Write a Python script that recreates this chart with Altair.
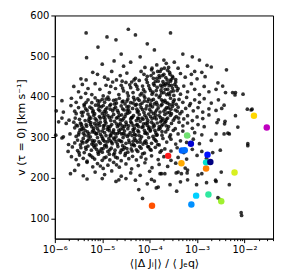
import altair as alt
import pandas as pd

# Background sample: (log10 <|dJ|>/<Jeq>, v), by velocity band
TOP = [(-4.45,566),(-5.34,557),(-3.56,557),(-4.90,547),(-4.71,540),(-5.09,522),(-5.33,496),(-4.30,552),(-4.05,530),(-3.90,515),(-4.60,505),(-3.30,505),(-3.10,498),(-2.95,490),(-4.20,498),(-3.70,490),(-3.65,482),(-3.85,478),(-3.48,485),(-4.75,488),(-5.00,480),(-4.40,485),(-3.20,475),(-2.70,473),(-2.79,477),(-2.38,466),(-3.95,470),(-3.60,472),(-3.75,468),(-4.10,472),(-4.55,475),(-3.40,470)]
B440 = [(-5.45,444),(-5.34,441),(-5.10,455),(-4.95,448),(-4.80,462),(-4.62,452),(-4.48,458),(-4.30,445),(-4.18,462),(-4.05,450),(-3.92,458),(-3.85,445),(-3.78,462),(-3.70,455),(-3.66,447),(-3.58,460),(-3.52,450),(-3.45,442),(-3.35,457),(-3.25,448),(-3.12,455),(-3.00,444),(-2.83,449),(-2.56,434),(-4.70,441),(-4.22,440),(-3.96,466),(-3.62,465),(-3.80,452),(-3.55,442),(-4.88,443),(-5.20,460),(-3.05,462),(-2.90,460),(-2.46,426)]
B400 = [(-5.60,425),(-5.50,412),(-5.42,430),(-5.30,420),(-5.22,405),(-5.15,432),(-5.05,418),(-4.98,402),(-4.92,428),(-4.85,410),(-4.78,436),(-4.72,420),(-4.65,405),(-4.60,428),(-4.55,414),(-4.50,435),(-4.45,402),(-4.40,422),(-4.35,410),(-4.30,430),(-4.25,418),(-4.20,404),(-4.15,426),(-4.10,412),(-4.05,435),(-4.00,420),(-3.95,406),(-3.90,428),(-3.86,415),(-3.82,438),(-3.78,402),(-3.74,424),(-3.70,410),(-3.66,432),(-3.62,418),(-3.58,404),(-3.54,428),(-3.50,414),(-3.45,436),(-3.40,420),(-3.35,406),(-3.28,426),(-3.20,412),(-3.12,432),(-3.05,418),(-2.95,405),(-2.85,425),(-2.75,412),(-2.60,418),(-2.40,410),(-2.19,410),(-2.03,406),(-2.25,410),(-2.20,404),(-4.82,425),(-4.38,436),(-3.98,415),(-3.72,437),(-3.60,408),(-3.44,425),(-4.12,402),(-4.58,438),(-5.35,408),(-3.92,432),(-3.76,416),(-3.68,428),(-3.56,438)]
B380 = [(-5.85,390),(-5.65,396),(-5.55,386),(-5.45,398),(-5.38,381),(-5.30,392),(-5.22,385),(-5.15,397),(-5.08,382),(-5.00,393),(-4.95,386),(-4.88,399),(-4.82,381),(-4.76,391),(-4.70,384),(-4.64,396),(-4.58,387),(-4.52,382),(-4.46,394),(-4.40,385),(-4.34,398),(-4.28,381),(-4.22,391),(-4.16,384),(-4.10,397),(-4.04,388),(-3.98,382),(-3.92,393),(-3.86,386),(-3.80,398),(-3.74,381),(-3.68,391),(-3.62,384),(-3.56,396),(-3.50,388),(-3.44,381),(-3.38,393),(-3.30,386),(-3.22,398),(-3.14,383),(-3.05,392),(-2.95,386),(-2.85,395),(-2.70,384),(-2.55,392),(-2.43,379),(-4.92,394),(-4.48,389),(-4.02,394),(-3.72,388),(-3.58,380),(-4.25,395),(-5.05,389),(-3.90,382)]
B360 = [(-5.97,365),(-5.82,362),(-5.66,378),(-5.58,364),(-5.50,373),(-5.44,361),(-5.38,377),(-5.32,366),(-5.26,374),(-5.20,362),(-5.14,379),(-5.08,368),(-5.02,375),(-4.96,363),(-4.90,372),(-4.84,378),(-4.78,365),(-4.72,374),(-4.66,361),(-4.60,377),(-4.54,367),(-4.48,375),(-4.42,362),(-4.36,371),(-4.30,379),(-4.24,364),(-4.18,373),(-4.12,361),(-4.06,377),(-4.00,368),(-3.94,375),(-3.88,362),(-3.82,372),(-3.76,378),(-3.70,364),(-3.64,373),(-3.58,361),(-3.52,376),(-3.46,367),(-3.40,374),(-3.32,363),(-3.24,371),(-3.16,378),(-3.08,365),(-2.98,373),(-2.88,362),(-2.75,370),(-2.60,366),(-2.48,371),(-2.19,353),(-1.86,367),(-1.94,369),(-1.84,369),(-4.93,368),(-4.57,370),(-4.27,369),(-3.97,363),(-3.67,369),(-5.35,370),(-5.05,365),(-4.75,370),(-4.45,368),(-4.15,368),(-3.85,367),(-3.55,369)]
B340 = [(-5.85,347),(-5.70,342),(-5.55,358),(-5.48,344),(-5.42,353),(-5.36,341),(-5.30,357),(-5.24,347),(-5.18,354),(-5.12,342),(-5.06,351),(-5.00,358),(-4.94,345),(-4.88,353),(-4.82,341),(-4.76,356),(-4.70,347),(-4.64,354),(-4.58,342),(-4.52,351),(-4.46,359),(-4.40,345),(-4.34,353),(-4.28,341),(-4.22,356),(-4.16,347),(-4.10,354),(-4.04,342),(-3.98,351),(-3.92,358),(-3.86,345),(-3.80,353),(-3.74,341),(-3.68,356),(-3.62,347),(-3.56,354),(-3.50,342),(-3.44,351),(-3.36,358),(-3.28,345),(-3.20,353),(-3.10,341),(-3.00,350),(-2.88,346),(-2.75,355),(-2.55,343),(-5.27,350),(-4.97,349),(-4.67,349),(-4.37,349),(-4.07,348),(-3.77,348),(-3.47,347),(-5.57,347),(-5.15,346),(-4.85,348),(-4.55,346),(-4.25,347),(-3.95,346),(-3.65,344)]
B320 = [(-5.92,338),(-5.76,334),(-5.60,337),(-5.52,328),(-5.46,335),(-5.40,322),(-5.34,331),(-5.28,339),(-5.22,326),(-5.16,334),(-5.10,321),(-5.04,337),(-4.98,328),(-4.92,335),(-4.86,322),(-4.80,331),(-4.74,339),(-4.68,326),(-4.62,334),(-4.56,321),(-4.50,337),(-4.44,328),(-4.38,335),(-4.32,322),(-4.26,331),(-4.20,339),(-4.14,326),(-4.08,334),(-4.02,321),(-3.96,337),(-3.90,328),(-3.84,335),(-3.78,322),(-3.72,331),(-3.66,339),(-3.60,326),(-3.54,334),(-3.46,321),(-3.38,337),(-3.30,328),(-3.20,335),(-3.10,322),(-2.98,331),(-2.85,326),(-2.42,333),(-2.58,336),(-2.41,339),(-2.14,325),(-5.55,330),(-5.25,331),(-4.95,330),(-4.65,330),(-4.35,329),(-4.05,329),(-3.75,328),(-5.13,328),(-4.83,327),(-4.53,327),(-4.23,326),(-3.93,325),(-5.43,327)]
B300 = [(-5.98,305),(-5.82,301),(-5.68,308),(-5.55,302),(-5.49,311),(-5.43,319),(-5.37,305),(-5.31,313),(-5.25,301),(-5.19,317),(-5.13,308),(-5.07,315),(-5.01,302),(-4.95,311),(-4.89,319),(-4.83,305),(-4.77,313),(-4.71,301),(-4.65,317),(-4.59,308),(-4.53,315),(-4.47,302),(-4.41,311),(-4.35,319),(-4.29,305),(-4.23,313),(-4.17,301),(-4.11,317),(-4.05,308),(-3.99,315),(-3.93,302),(-3.87,311),(-3.81,319),(-3.74,305),(-3.66,313),(-3.58,301),(-3.50,317),(-3.40,308),(-3.30,315),(-3.18,303),(-3.05,311),(-2.90,306),(-2.60,308),(-2.35,310),(-2.32,308),(-2.43,308),(-5.28,309),(-5.04,307),(-4.80,310),(-4.56,309),(-4.32,307),(-4.08,311),(-3.84,306),(-5.16,312),(-4.92,304),(-4.68,309),(-4.44,306),(-5.40,310)]
B280 = [(-5.85,298),(-5.71,282),(-5.58,286),(-5.52,293),(-5.46,281),(-5.40,297),(-5.34,288),(-5.28,295),(-5.22,283),(-5.16,291),(-5.10,299),(-5.04,285),(-4.98,293),(-4.92,281),(-4.86,297),(-4.80,288),(-4.74,295),(-4.68,283),(-4.62,291),(-4.56,299),(-4.50,285),(-4.44,293),(-4.38,281),(-4.32,297),(-4.26,288),(-4.20,295),(-4.14,283),(-4.08,291),(-4.02,299),(-3.96,285),(-3.88,293),(-3.80,281),(-3.72,297),(-3.64,288),(-3.55,295),(-3.45,283),(-3.35,291),(-3.22,287),(-3.08,295),(-2.95,284),(-2.70,292),(-1.93,284),(-1.93,279),(-5.31,291),(-5.07,289),(-4.83,291),(-4.59,289),(-4.35,290),(-4.11,288),(-4.95,290),(-4.71,289),(-5.19,287),(-5.43,290)]
B260 = [(-5.72,265),(-5.63,276),(-5.52,267),(-5.45,274),(-5.38,262),(-5.30,278),(-5.23,268),(-5.16,275),(-5.09,263),(-5.02,271),(-4.95,279),(-4.88,265),(-4.81,273),(-4.74,261),(-4.67,277),(-4.60,268),(-4.53,275),(-4.46,263),(-4.39,271),(-4.32,279),(-4.25,265),(-4.18,273),(-4.11,261),(-4.04,277),(-3.97,268),(-3.88,275),(-3.78,263),(-3.68,271),(-3.55,266),(-3.42,274),(-3.28,262),(-3.10,270),(-2.90,265),(-2.67,262),(-2.51,268),(-5.12,270),(-4.84,269),(-4.56,270),(-4.28,269),(-5.34,270),(-4.98,272)]
B240 = [(-5.65,252),(-5.55,245),(-5.48,256),(-5.40,248),(-5.32,241),(-5.24,254),(-5.16,246),(-5.08,258),(-5.00,243),(-4.92,251),(-4.84,244),(-4.76,257),(-4.68,249),(-4.60,242),(-4.52,255),(-4.44,247),(-4.36,253),(-4.28,244),(-4.18,251),(-4.08,246),(-3.96,254),(-3.82,245),(-3.70,252),(-3.55,243),(-3.40,250),(-3.22,246),(-3.00,255),(-2.80,248),(-5.20,250),(-4.96,249),(-4.72,251)]
B220 = [(-5.50,232),(-5.32,238),(-5.20,227),(-5.10,235),(-4.98,223),(-4.88,231),(-4.76,238),(-4.64,226),(-4.50,234),(-4.38,222),(-4.24,230),(-4.10,237),(-3.95,225),(-3.80,233),(-3.62,228),(-3.45,236),(-3.25,224),(-5.04,229),(-4.70,232)]
B200 = [(-5.67,210),(-5.58,218),(-5.40,205),(-5.15,214),(-4.95,208),(-4.80,217),(-4.60,204),(-4.40,212),(-4.20,206),(-4.00,216),(-3.75,210),(-3.40,214),(-2.98,207),(-2.49,214),(-3.20,219),(-3.44,212),(-3.33,210),(-3.21,212),(-2.90,210),(-3.78,210),(-3.68,210)]
LOW = [(-5.32,197),(-4.71,191),(-4.65,195),(-2.60,191),(-3.01,183),(-3.43,167),(-3.57,183),(-3.82,177),(-4.15,149),(-4.23,171),(-2.07,114),(-2.06,107),(-2.52,147),(-5.00,198),(-4.30,194),(-3.90,192),(-3.20,195),(-2.80,188),(-4.50,198),(-4.05,185),(-2.61,194),(-2.32,183),(-2.56,151),(-3.35,190),(-3.86,175),(-3.96,196)]
# extra points in the dense core
CORE1 = [(-5.49,262),(-5.41,286),(-5.35,275),(-5.27,257),(-5.21,292),(-5.13,281),(-5.05,266),(-4.99,297),(-4.91,276),(-4.85,258),(-4.79,284),(-4.73,268),(-4.65,293),(-4.57,279),(-4.51,260),(-4.43,287),(-4.37,266),(-4.29,292),(-4.21,277),(-4.15,259),(-4.07,285),(-3.99,270),(-3.91,296),(-3.83,282),(-3.75,267),(-5.18,279),(-4.89,289),(-4.62,262),(-4.34,282),(-4.02,276),(-5.00,263),(-4.76,298),(-4.48,272),(-4.20,288),(-3.86,290)]
CORE2 = [(-5.58,323),(-5.50,306),(-5.44,332),(-5.36,316),(-5.30,303),(-5.24,336),(-5.18,322),(-5.12,309),(-5.06,329),(-5.00,315),(-4.94,339),(-4.88,326),(-4.82,303),(-4.76,318),(-4.70,333),(-4.64,312),(-4.58,328),(-4.52,306),(-4.46,321),(-4.40,338),(-4.34,314),(-4.28,330),(-4.22,304),(-4.16,324),(-4.10,310),(-4.04,336),(-3.98,318),(-3.92,332),(-3.86,305),(-3.80,326),(-3.74,314),(-3.68,336),(-3.62,319),(-3.56,306),(-5.47,318),(-5.21,313),(-4.97,322),(-4.73,309),(-4.49,331),(-4.25,316),(-4.01,325),(-3.77,338),(-5.33,327),(-5.09,334),(-4.85,316),(-4.61,320),(-4.37,304),(-4.13,333),(-3.89,317),(-3.65,328)]
CORE3 = [(-5.40,362),(-5.34,386),(-5.28,344),(-5.22,371),(-5.16,358),(-5.10,390),(-5.04,347),(-4.98,378),(-4.92,361),(-4.86,393),(-4.80,350),(-4.74,382),(-4.68,366),(-4.62,343),(-4.56,389),(-4.50,357),(-4.44,376),(-4.38,348),(-4.32,392),(-4.26,362),(-4.20,380),(-4.14,344),(-4.08,370),(-4.02,357),(-3.96,391),(-3.90,348),(-3.84,380),(-3.78,362),(-3.72,345),(-3.66,386),(-3.60,372),(-3.54,358),(-3.48,392),(-3.42,364),(-5.19,365),(-4.95,354),(-4.71,392),(-4.47,365),(-4.23,346),(-3.99,377),(-3.75,392),(-3.51,382),(-5.07,376),(-4.83,369),(-4.59,355),(-4.35,384),(-4.11,389),(-3.87,354),(-3.63,360),(-3.39,347)]
CORE4 = [(-4.57,421),(-4.47,409),(-4.33,441),(-4.27,425),(-4.17,408),(-4.07,442),(-4.02,427),(-3.97,452),(-3.93,411),(-3.88,437),(-3.84,423),(-3.79,447),(-3.75,409),(-3.71,431),(-3.67,418),(-3.63,441),(-3.59,427),(-3.55,412),(-3.51,446),(-3.47,430),(-3.42,415),(-3.83,462),(-3.69,470),(-3.57,455),(-4.12,455),(-3.92,445),(-3.77,428),(-3.64,405),(-3.52,421),(-4.42,429),(-4.13,417),(-3.86,404),(-3.73,452),(-3.61,433),(-3.49,403)]

# Highlighted objects: log10 x, v, colour
HI_LOGX = [-3.95, -3.61, -3.33, -2.81, -3.21, -3.13, -3.32, -3.26, -2.78, -2.81, -2.72, -3.02, -3.12, -2.76, -2.49, -2.21, -1.80, -1.53]
HI_V = [131, 254, 236, 223, 304, 284, 267, 268, 257, 238, 239, 156, 134, 159, 142, 213, 353, 324]
HI_COL = ["#ff5000", "#ff1a1a", "#ffaa00", "#ff8000", "#70e070", "#0000d0", "#0060ff", "#0070ff",
          "#0010ff", "#00e0d0", "#000080", "#00d0ff", "#0090ff", "#30e8a0", "#a0f030", "#d8f020",
          "#ffd700", "#c000c0"]

X_DECADES = [1e-6, 1e-5, 1e-4, 1e-3, 1e-2]
Y_TICKS = [100, 200, 300, 400, 500, 600]

bg_pts = (TOP + B440 + B400 + B380 + B360 + B340 + B320 + B300 + B280 + B260 + B240 + B220 + B200 + LOW
          + CORE1 + CORE2 + CORE3 + CORE4)
bg = pd.DataFrame({"x": [10 ** p[0] for p in bg_pts], "v": [p[1] for p in bg_pts]})
hi = pd.DataFrame({"x": [10 ** lx for lx in HI_LOGX], "v": HI_V, "c": HI_COL})

x_ticks = []
for d in X_DECADES:
    for m in range(1, 10):
        val = d * m
        if val <= 0.04:
            x_ticks.append(val)

xscale = alt.Scale(type="log", domain=[1e-6, 0.04], nice=False)
yscale = alt.Scale(domain=[50, 600], nice=False)

is_decade = "abs(log(datum.value)/LN10 - round(log(datum.value)/LN10)) < 0.001"
label_expr = (is_decade + " ? "
              "'10' + replace(replace(replace(replace(replace(replace(replace("
              "format(round(log(datum.value)/LN10), 'd'),"
              "'-', '⁻'), '1', '¹'), '2', '²'), '3', '³'), '4', '⁴'), '5', '⁵'), '6', '⁶') : ''")

xaxis = alt.Axis(
    values=x_ticks,
    labelExpr=label_expr,
    title="⟨|Δ Jᵢ|⟩ / ⟨ Jₑq⟩",
    tickSize={"condition": {"test": is_decade, "value": 4}, "value": 2},
    labelFlush=False,
)
yaxis = alt.Axis(values=Y_TICKS, title="v (τ = 0) [km s⁻¹]", tickSize=4)

base_bg = alt.Chart(bg).mark_circle(size=14, color="#000000", opacity=0.8).encode(
    x=alt.X("x:Q", scale=xscale, axis=xaxis),
    y=alt.Y("v:Q", scale=yscale, axis=yaxis),
)
hi_layer = alt.Chart(hi).mark_circle(size=42, opacity=1).encode(
    x=alt.X("x:Q", scale=xscale),
    y=alt.Y("v:Q", scale=yscale),
    color=alt.Color("c:N", scale=None),
)

chart = alt.layer(base_bg, hi_layer).properties(
    width=219, height=224,
    padding={"left": 7, "top": 2, "right": 5, "bottom": 5},
).configure_view(
    stroke="#000000", strokeWidth=1
).configure_axis(
    grid=False, domainColor="#000000", tickColor="#000000", labelColor="#000000",
    titleColor="#000000", labelFont="DejaVu Sans", titleFont="DejaVu Sans",
    labelFontSize=10, titleFontSize=11, titleFontWeight="normal", labelPadding=2, titlePadding=3,
)

chart.save("out.html", embed_options={"renderer": "svg", "actions": False})
